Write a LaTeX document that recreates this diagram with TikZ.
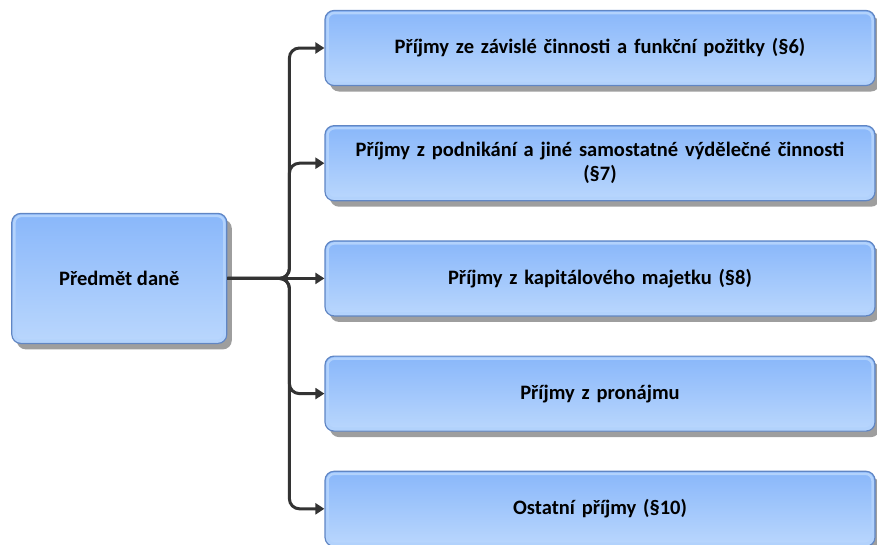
\documentclass[tikz,border=0pt]{standalone}
\usepackage{fontspec}
\setmainfont{Carlito}
\usetikzlibrary{positioning,shadows,arrows.meta}

\definecolor{boxtop}{RGB}{137,183,250}
\definecolor{boxbot}{RGB}{186,215,253}
\definecolor{boxrim}{RGB}{178,210,252}
\definecolor{boxline}{RGB}{96,134,196}
\definecolor{wire}{RGB}{51,51,51}

\begin{document}
\begin{tikzpicture}[x=1pt,y=-1pt]

\tikzstyle{incbox} = [draw=boxline, line width=1.2pt, rounded corners=9pt, top color=boxtop, bottom color=boxbot, drop shadow={shadow xshift=5pt, shadow yshift=-6pt, fill=black!38, opacity=1}, font=\fontsize{20.5}{24}\selectfont\bfseries, align=center, inner sep=0pt,
  path picture={\draw[boxrim, line width=2.5pt, rounded corners=7pt] ([shift={(2.5pt,-2.5pt)}]path picture bounding box.north west) rectangle ([shift={(-2.5pt,2.5pt)}]path picture bounding box.south east);}]
\tikzstyle{srcbox} = [incbox, minimum width=215pt, minimum height=130pt]
\tikzstyle{kindbox} = [incbox, minimum width=550pt, minimum height=75pt, text width=540pt]
\tikzstyle{branch} = [draw=wire, line width=3pt, rounded corners=10pt, -{Triangle[length=9pt,width=11pt]}]

\useasboundingbox (0,0) rectangle (877,544);

% income kinds
\node[kindbox] (p1) at (600,48) {Příjmy ze závislé činnosti a funkční požitky (§6)};
\node[kindbox, below=39pt of p1] (p2) {Příjmy z podnikání a jiné samostatné výdělečné činnosti\\(§7)};
\node[kindbox, below=39pt of p2] (p3) {Příjmy z kapitálového majetku (§8)};
\node[kindbox, below=39pt of p3] (p4) {Příjmy z pronájmu};
\node[kindbox, below=39pt of p4] (p5) {Ostatní příjmy (§10)};

% subject of the tax
\node[srcbox, left=97pt of p3] (p0) {Předmět daně};

\coordinate (hub) at ([xshift=62pt]p0.east);

\draw[branch] (p0.east) -- (hub) |- (p1.west);
\draw[branch] (p0.east) -- (hub) |- (p2.west);
\draw[branch] (p0.east) -- (p3.west);
\draw[branch] (p0.east) -- (hub) |- (p4.west);
\draw[branch] (p0.east) -- (hub) |- (p5.west);

\end{tikzpicture}
\end{document}
